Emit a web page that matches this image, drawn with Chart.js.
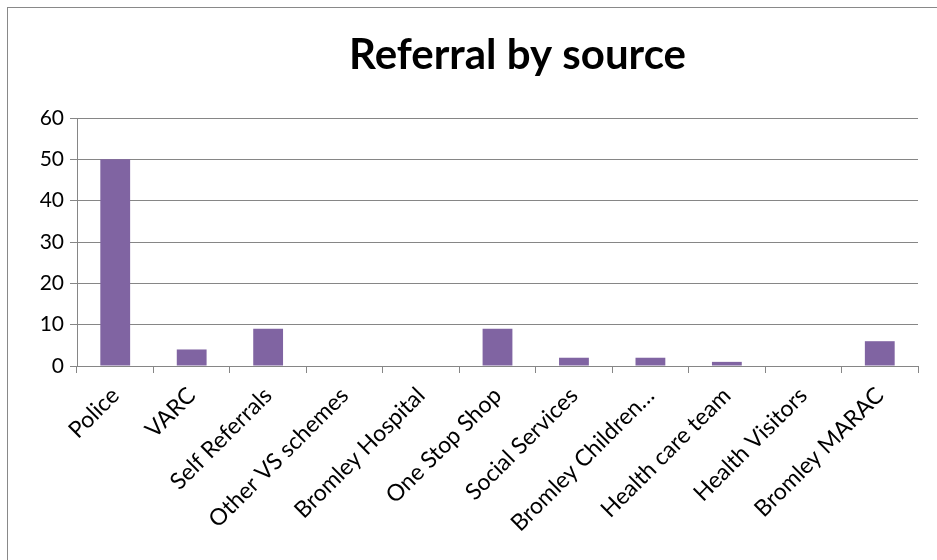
<!DOCTYPE html>
<html>
<head>
<meta charset="utf-8">
<script src="https://cdn.jsdelivr.net/npm/chart.js@4"></script>
<style>
  html, body { margin: 0; padding: 0; background: #fff; overflow: hidden; }
  #wrap { position: relative; width: 937px; height: 560px; }
  #frame { position: absolute; left: 7px; top: 7px; width: 1200px; height: 1200px; border: 1px solid #898989; box-sizing: border-box; }
  #chart { position: absolute; left: 0; top: 0; }
</style>
</head>
<body>
<div id="wrap">
  <div id="frame"></div>
  <canvas id="chart" width="937" height="560"></canvas>
</div>
<script>
// Referral sources and counts
const sources = [
    "Police", "VARC", "Self Referrals", "Other VS schemes", "Bromley Hospital",
    "One Stop Shop", "Social Services", "Bromley Children\u2026", "Health care team",
    "Health Visitors", "Bromley MARAC"
];
const referrals = [50, 4, 9, 0, 0, 9, 2, 2, 1, 0, 6];
const yTicks = [0, 10, 20, 30, 40, 50, 60];

const fontFamily = "Lato, 'Open Sans', sans-serif";
const gridColor = "#868686";

// nudge the title a bit right, like the original sheet
const titleShift = {
    id: "titleShift",
    afterLayout(chart) {
        if (chart.titleBlock) chart.titleBlock.left += 40;
    }
};

const ctx = document.getElementById("chart").getContext("2d");

new Chart(ctx, {
    type: "bar",
    data: {
        labels: sources,
        datasets: [{
            label: "Referral by source",
            data: referrals,
            backgroundColor: "#8064A2",
            barPercentage: 0.39,
            categoryPercentage: 1.0,
        }]
    },
    options: {
        responsive: false,
        animation: false,
        devicePixelRatio: 1,
        layout: { padding: { left: 10, right: 19, top: 0, bottom: 0 } },
        plugins: {
            legend: { display: false },
            tooltip: { enabled: false },
            title: {
                display: true,
                text: "Referral by source",
                color: "#000",
                fullSize: false,
                font: { family: fontFamily, size: 42, weight: "bold" },
                padding: { top: 30, bottom: 37.6 },
            },
        },
        scales: {
            x: {
                offset: true,
                grid: { display: true, drawOnChartArea: false, drawTicks: true, offset: true, tickLength: 7, color: gridColor },
                border: { display: true, color: gridColor },
                ticks: {
                    color: "#000",
                    font: { family: fontFamily, size: 23 },
                    minRotation: 45,
                    maxRotation: 45,
                    autoSkip: false,
                    padding: 9,
                },
                afterFit: (scale) => { scale.height = 194; },
            },
            y: {
                min: 0,
                max: 60,
                afterBuildTicks: (scale) => { scale.ticks = yTicks.map(v => ({ value: v })); },
                grid: { color: gridColor, tickLength: 7 },
                border: { display: true, color: gridColor },
                ticks: {
                    color: "#000",
                    font: { family: fontFamily, size: 21 },
                    padding: 6,
                },
                afterFit: (scale) => { scale.width = 67; },
            }
        }
    },
    plugins: [titleShift]
});
</script>
</body>
</html>
